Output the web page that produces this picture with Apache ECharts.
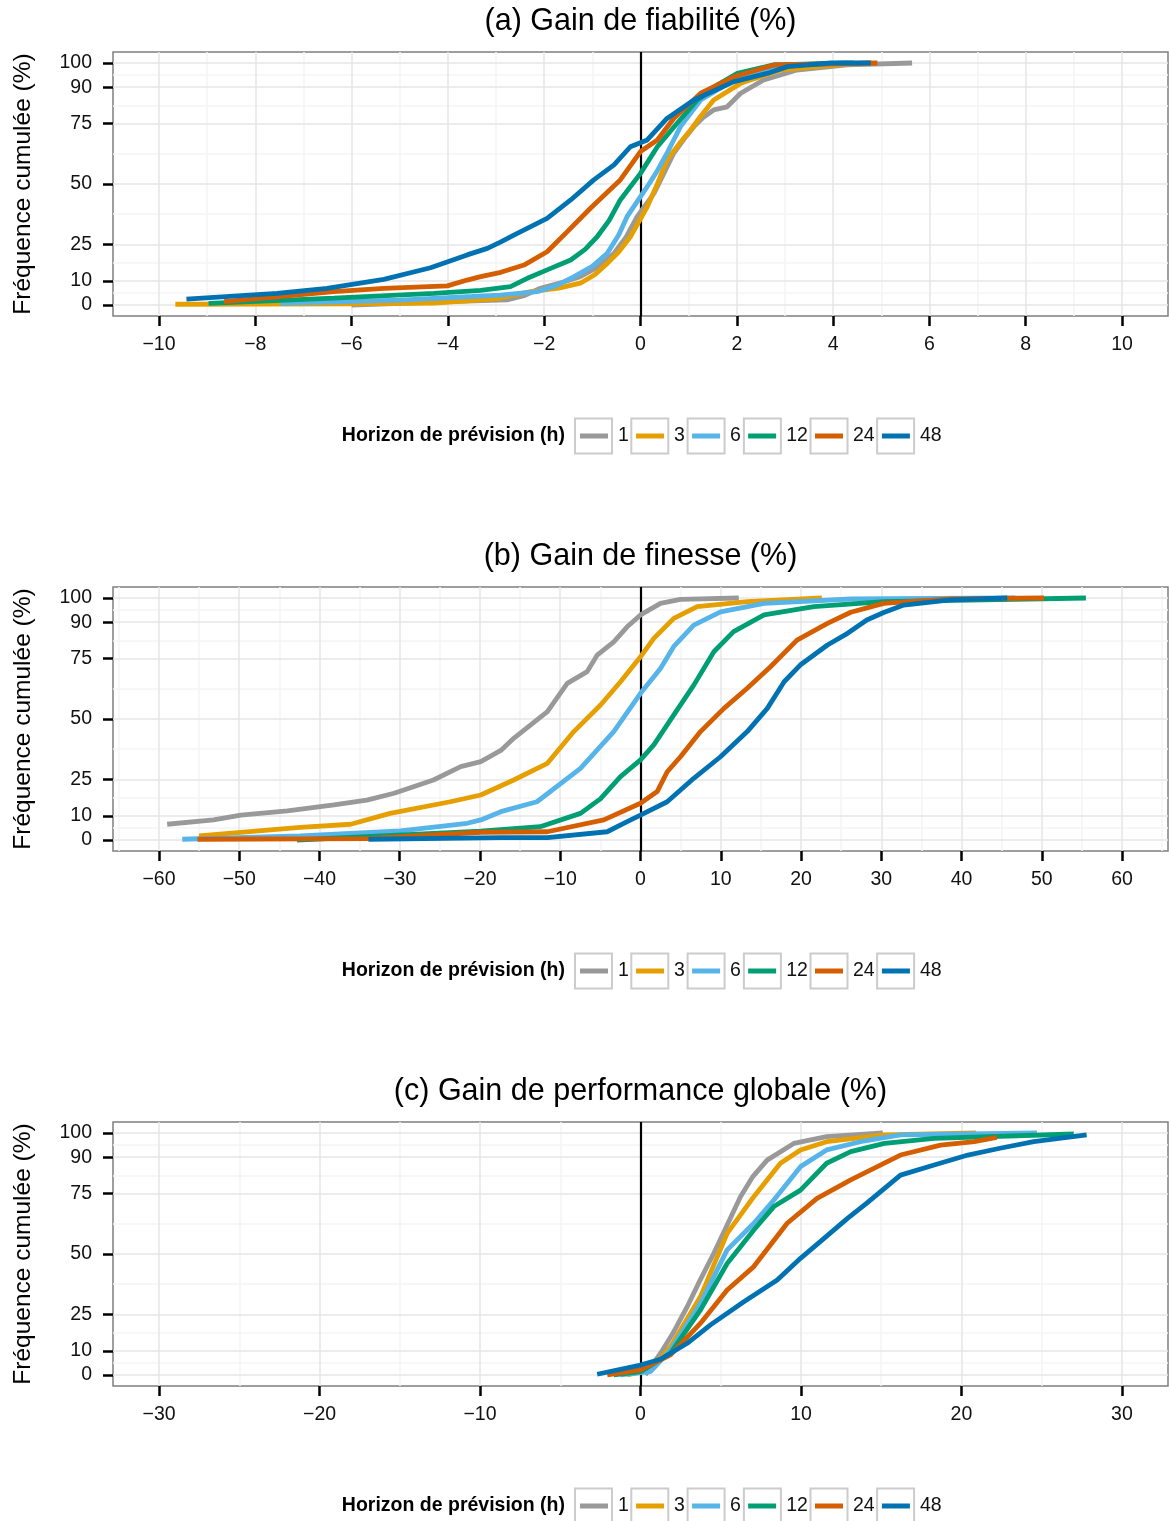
<!DOCTYPE html>
<html>
<head>
<meta charset="utf-8">
<script src="https://cdn.jsdelivr.net/npm/echarts@6/dist/echarts.min.js"></script>
<style>
  html, body { margin: 0; padding: 0; background: #ffffff; }
  #chart { width: 1169px; height: 1521px; }
</style>
</head>
<body>
<div id="chart"></div>
<script>
// ---------------- DATA ----------------
const panelTitles = ['(a) Gain de fiabilité (%)', '(b) Gain de finesse (%)', '(c) Gain de performance globale (%)'];
const horizons = ['1', '3', '6', '12', '24', '48'];
const legendTitle = 'Horizon de prévision (h)';
const yAxisTitle = 'Fréquence cumulée (%)';

const yTicks = [0, 10, 25, 50, 75, 90, 100];
const yMinorTicks = [5, 17.5, 37.5, 62.5, 82.5, 95];

const xTicksA = [-10, -8, -6, -4, -2, 0, 2, 4, 6, 8, 10];
const xMinorA = [-9, -7, -5, -3, -1, 1, 3, 5, 7, 9];
const xTicksB = [-60, -50, -40, -30, -20, -10, 0, 10, 20, 30, 40, 50, 60];
const xMinorB = [-65, -55, -45, -35, -25, -15, -5, 5, 15, 25, 35, 45, 55, 65];
const xTicksC = [-30, -20, -10, 0, 10, 20, 30];
const xMinorC = [-25, -15, -5, 5, 15, 25];

// (a) Gain de fiabilité : [gain %, fréquence cumulée %]
const fiab_h1 = [[-6.0,0],[-3.95,1.4],[-2.77,2.1],[-2.4,4],[-2.08,6.9],[-1.6,9.5],[-1.25,11.7],[-0.9,15.5],[-0.55,21.4],[-0.3,28],[-0.07,36.5],[0.28,46.1],[0.5,55],[0.69,62.7],[0.9,68.5],[1.11,73.7],[1.3,77.5],[1.52,80.6],[1.8,81.9],[2.08,87.5],[2.56,93],[3.25,97.1],[4.29,99.2],[5.64,100]];
const fiab_h3 = [[-9.66,0.3],[-6,0.5],[-4.29,0.8],[-3,2.5],[-2.28,5.5],[-1.7,7],[-1.25,9.0],[-0.95,12.5],[-0.69,17.2],[-0.45,22],[-0.21,28.2],[0.14,40.6],[0.35,50],[0.55,59.9],[0.8,66.5],[1.04,72.3],[1.25,78],[1.52,84.7],[2.08,91.6],[2.91,97.1],[4.3,99.7],[4.8,100]];
const fiab_h6 = [[-7.48,0.7],[-5,2],[-3.5,3.5],[-2.91,4.1],[-2.15,5.5],[-1.75,8],[-1.38,11.7],[-1.0,16],[-0.69,21.4],[-0.45,29],[-0.28,36.5],[0.14,48.9],[0.35,55.5],[0.55,62.7],[0.83,73.7],[1.25,84.7],[1.94,93],[2.91,99],[4.3,100]];
const fiab_h12 = [[-8.97,0.7],[-6.37,2.8],[-4.29,4.8],[-3.32,6.0],[-2.70,7.6],[-2.3,11.5],[-1.94,14.5],[-1.45,18.6],[-1.15,23],[-0.90,28.2],[-0.65,35],[-0.42,43.4],[0,54.4],[0.35,65.4],[0.76,75.1],[1.18,84.7],[1.6,91],[2.01,95.7],[2.77,99.2],[4.43,100]];
const fiab_h24 = [[-8.65,1.4],[-6.37,5.5],[-5.33,6.9],[-4.01,7.9],[-3.6,10.3],[-3.32,11.7],[-2.9,13.5],[-2.42,16.5],[-1.94,22.0],[-1.52,30.3],[-1.04,40.0],[-0.42,51.7],[0,63.4],[0.35,68.2],[0.69,77.1],[1.25,87.5],[1.94,94.3],[2.77,99.2],[4.92,100]];
const fiab_h48 = [[-9.43,2.4],[-7.55,4.8],[-6.51,6.9],[-5.33,10.6],[-4.36,15.4],[-3.60,20.7],[-3.18,23.4],[-2.91,26.0],[-2.63,28.9],[-1.94,35.8],[-1.45,43.4],[-0.97,51.7],[-0.55,57.9],[-0.21,65.4],[0.14,68.2],[0.55,77.1],[1.11,84.7],[1.94,92.3],[2.63,95.7],[3.05,98.5],[3.95,100],[4.78,100]];

// (b) Gain de finesse
const fin_h1 = [[-58.98,6.5],[-53.2,8.3],[-49.8,10.3],[-44,12],[-38.2,14.5],[-34.1,16.5],[-30.7,19.3],[-25.8,24.8],[-22.4,30.3],[-19.9,32.4],[-17.4,37],[-15.8,42.0],[-11.6,53.0],[-9.13,64.7],[-6.64,69.6],[-5.40,76.4],[-3.33,81.9],[-1.66,88.1],[0,93],[2.49,97.8],[4.98,99.4],[12.25,100]];
const fin_h3 = [[-55.0,1.7],[-42.4,5.2],[-36.1,6.5],[-31.2,11.0],[-23.7,15.8],[-19.9,18.6],[-15.8,24.8],[-11.6,31.7],[-8.31,44.8],[-4.98,55.8],[-2.49,65.4],[0,75.7],[1.66,83.3],[4.15,91.6],[7.06,96.4],[13.3,98.5],[22.6,100]];
const fin_h6 = [[-57.1,0.3],[-42.4,1.7],[-29.9,3.8],[-21.6,6.9],[-19.9,8.3],[-17.4,11.7],[-12.9,15.8],[-7.48,29.6],[-3.33,44.8],[0,60.6],[2.49,70.9],[4.15,80],[6.64,88.8],[9.97,94.3],[15.4,97.8],[26.2,99.6],[46.7,100]];
const fin_h12 = [[-42.8,0],[-19.9,3.7],[-12.5,5.5],[-7.48,11.0],[-5,17],[-2.49,26.2],[0,33.1],[1.66,39.3],[4.15,51.7],[6.64,64.0],[9.14,77.8],[11.6,86.1],[15.4,93],[21.6,96.4],[30.3,98.5],[55.5,100]];
const fin_h24 = [[-55.2,0.3],[-34,0.6],[-19.9,3.2],[-11.6,3.4],[-4.57,8.3],[0,15.2],[2.08,20.0],[3.33,28.2],[4.98,34.4],[7.48,44.8],[10.4,54.4],[13.3,62.7],[16.2,71.6],[19.5,82.6],[23.3,89.5],[26.2,94.1],[30.3,97.8],[38.6,99.6],[50.3,100]];
const fin_h48 = [[-33.9,0.3],[-17.4,1.0],[-11.6,1.0],[-4.15,3.4],[-1.66,7.6],[0,10.3],[3.33,15.8],[6.64,25.5],[9.97,34.4],[13.3,44.8],[15.8,54.4],[17.9,65.4],[19.9,72.3],[23.3,80.6],[25.8,85.4],[28.2,90.9],[30.3,94],[32.8,97.1],[38.6,99.2],[45.7,100]];

// (c) Gain de performance globale
const glob_h1 = [[0.3,0],[1.25,9.0],[2.0,17],[2.91,28.2],[3.7,39],[4.57,50.3],[5.4,62],[6.23,73.7],[7.0,82],[7.89,88.8],[9.55,95.7],[11.6,98.5],[15.1,100]];
const glob_h3 = [[-0.83,0],[0.62,2.1],[1.87,11.7],[3.74,32.4],[5.40,58.5],[7.06,73.7],[8.72,87.5],[9.97,93],[11.6,96.4],[15.2,99.2],[20.9,100]];
const glob_h6 = [[-1.25,0],[0.62,1.4],[1.87,10.3],[3.74,29.6],[5.40,51.7],[7.06,62.7],[8.31,72.3],[9.97,86.1],[11.6,93],[13.7,96.4],[16.2,99.2],[24.7,100]];
const glob_h12 = [[-1.66,0],[0,1.4],[1.87,9.0],[3.74,26.9],[5.40,46.1],[7.06,59.9],[8.31,69.6],[9.97,76.4],[11.6,87.5],[13.1,92.3],[15.2,95.7],[18.3,97.8],[27.0,99.6]];
const glob_h24 = [[-2.07,0],[0,2.1],[1.87,8.3],[3.74,21.4],[5.40,35.1],[7.06,44.8],[9.14,62.7],[11.0,73.0],[13.1,80.6],[16.2,90.9],[18.7,95.0],[20.8,96.4],[22.2,98.2]];
const glob_h48 = [[-2.70,0.3],[0,4.1],[1.25,6.5],[2.91,13.1],[4.36,20.7],[6.44,30.3],[8.52,39.3],[9.97,48.2],[11.2,55.1],[12.9,64.7],[14.1,71.0],[16.2,82.6],[18.3,86.8],[20.4,90.9],[22.4,93.7],[24.5,96.4],[27.8,99.2]];

// ---------------- STYLE / LAYOUT ----------------
const colors = ['#999999', '#E69F00', '#56B4E9', '#009E73', '#D55E00', '#0072B2'];
const FONT = '"Liberation Sans", Arial, Helvetica, sans-serif';
const panels = [
  { title: panelTitles[0], xMin: -10.955, xMax: 10.955, ticks: xTicksA, minor: xMinorA,
    data: [fiab_h1, fiab_h3, fiab_h6, fiab_h12, fiab_h24, fiab_h48], top: 52, legendY: 436, titleY: 22 },
  { title: panelTitles[1], xMin: -65.73, xMax: 65.73, ticks: xTicksB, minor: xMinorB,
    data: [fin_h1, fin_h3, fin_h6, fin_h12, fin_h24, fin_h48], top: 587, legendY: 971, titleY: 557 },
  { title: panelTitles[2], xMin: -32.87, xMax: 32.87, ticks: xTicksC, minor: xMinorC,
    data: [glob_h1, glob_h3, glob_h6, glob_h12, glob_h24, glob_h48], top: 1122, legendY: 1506, titleY: 1092 }
];
const PANEL_H = 264;
const boxLefts = [575, 631.3, 687.6, 743.9, 810.5, 877.1];

const grids = [], xAxes = [], yAxes = [], series = [], legends = [], graphics = [];
const fmt = v => String(v).replace('-', '\u2212');

panels.forEach((p, i) => {
  grids.push({ left: 113, right: 1, top: p.top, height: PANEL_H, show: true,
    borderColor: '#7f7f7f', borderWidth: 1.5, backgroundColor: '#ffffff', containLabel: false });
  xAxes.push({ type: 'value', gridIndex: i, min: p.xMin, max: p.xMax, position: 'bottom',
    axisLine: { show: false, onZero: false },
    axisTick: { show: true, inside: false, customValues: p.ticks, length: 10, lineStyle: { color: '#000', width: 2.5 } },
    axisLabel: { show: true, customValues: p.ticks, formatter: fmt, margin: 19,
      fontSize: 19.5, fontFamily: FONT, color: '#111' },
    splitLine: { show: false } });
  yAxes.push({ type: 'value', gridIndex: i, min: -4.55, max: 104.55, position: 'left',
    name: yAxisTitle, nameLocation: 'middle', nameGap: 77,
    nameTextStyle: { fontSize: 24.5, fontFamily: FONT, color: '#000' },
    axisLine: { show: false, onZero: false },
    axisTick: { show: true, inside: false, customValues: yTicks, length: 10, lineStyle: { color: '#000', width: 2.5 } },
    axisLabel: { show: true, customValues: yTicks, margin: 21, fontSize: 19.5, fontFamily: FONT, color: '#111' },
    splitLine: { show: false } });

  // grid lines (minor + major) as mark lines, kept beneath the curves
  const gl = [];
  p.minor.forEach(v => gl.push({ xAxis: v, lineStyle: { color: '#f4f4f4', width: 1.5, type: 'solid' } }));
  yMinorTicks.forEach(v => gl.push({ yAxis: v, lineStyle: { color: '#f4f4f4', width: 1.5, type: 'solid' } }));
  p.ticks.forEach(v => gl.push({ xAxis: v, lineStyle: { color: '#e6e6e6', width: 1.5, type: 'solid' } }));
  yTicks.forEach(v => gl.push({ yAxis: v, lineStyle: { color: '#e6e6e6', width: 1.5, type: 'solid' } }));
  series.push({ type: 'line', xAxisIndex: i, yAxisIndex: i, data: [], z: 1, silent: true,
    markLine: { z: 1, silent: true, symbol: ['none', 'none'], label: { show: false }, animation: false, data: gl } });
  // vertical zero line
  series.push({ type: 'line', xAxisIndex: i, yAxisIndex: i, data: [], z: 2, silent: true,
    markLine: { z: 2, silent: true, symbol: ['none', 'none'], label: { show: false }, animation: false,
      data: [{ xAxis: 0, lineStyle: { color: '#000', width: 2.2, type: 'solid' } }] } });

  p.data.forEach((d, k) => {
    series.push({ name: horizons[k], type: 'line', xAxisIndex: i, yAxisIndex: i, data: d,
      color: colors[k], showSymbol: false, symbol: 'none', z: 10 + k, smooth: false,
      lineStyle: { width: 4.8, color: colors[k] } });
  });

  legends.push({ data: horizons, left: 580, top: p.legendY - 11, orient: 'horizontal',
    itemWidth: 28, itemHeight: 5, itemGap: 7.2, icon: 'rect', padding: 0, selectedMode: false,
    textStyle: { fontSize: 19.5, fontFamily: FONT, color: '#111', lineHeight: 22, padding: [0, 0, 0, 5] } });

  graphics.push({ type: 'text', x: 640.5, y: p.titleY,
    style: { text: p.title, font: '30.5px ' + FONT, fill: '#000', align: 'center', verticalAlign: 'middle' } });
  graphics.push({ type: 'text', x: 565, y: p.legendY,
    style: { text: legendTitle, font: 'bold 19.5px ' + FONT, fill: '#000', align: 'right', verticalAlign: 'middle' } });
  boxLefts.forEach(bx => graphics.push({ type: 'rect', silent: true,
    shape: { x: bx, y: p.legendY - 17.5, width: 37, height: 35 },
    style: { fill: 'none', stroke: '#cccccc', lineWidth: 2 } }));
});

const chart = echarts.init(document.getElementById('chart'), null, { renderer: 'canvas' });
chart.setOption({
  animation: false,
  backgroundColor: '#ffffff',
  grid: grids, xAxis: xAxes, yAxis: yAxes, series: series, legend: legends, graphic: graphics
});
</script>
</body>
</html>
